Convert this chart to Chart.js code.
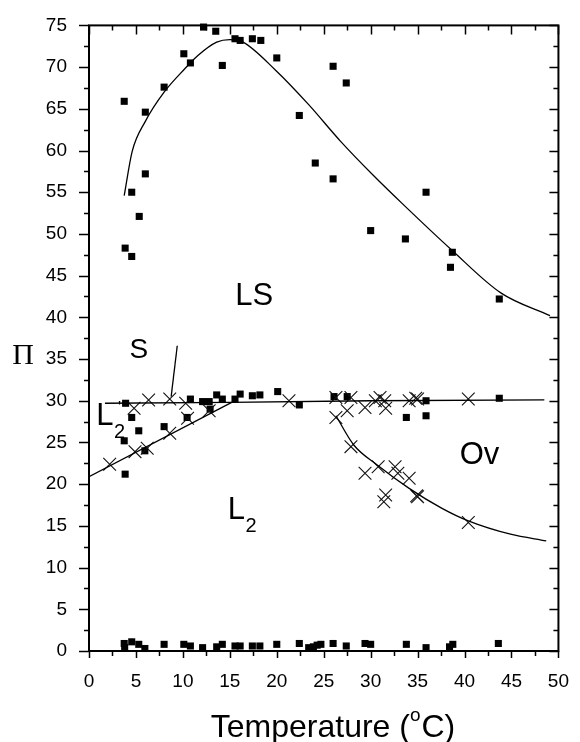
<!DOCTYPE html>
<html>
<head>
<meta charset="utf-8">
<script src="https://cdn.jsdelivr.net/npm/chart.js@4.4.0/dist/chart.umd.min.js"></script>
<style>
  html, body { margin: 0; padding: 0; background: #fff; }
  #wrap { width: 580px; height: 742px; }
</style>
</head>
<body>
<div id="wrap"><canvas id="phaseChart" width="580" height="742"></canvas></div>
<script>
/************************************************************************************
 *                                    DATA
 ************************************************************************************/

// squares, upper LS branch
const lsSquares = [
  [3.75, 65.9], [3.85, 48.3], [4.55, 47.3], [4.55, 55.0], [5.35, 52.1], [6.0, 57.2],
  [6.0, 64.6], [8.0, 67.6], [10.1, 71.6], [10.8, 70.5], [12.2, 74.8], [13.5, 74.3],
  [14.2, 70.2], [15.55, 73.4], [16.1, 73.2], [17.4, 73.4], [18.3, 73.2], [20.0, 71.1],
  [22.4, 64.2], [24.1, 58.5], [26.0, 70.1], [26.0, 56.6], [27.4, 68.1], [30.0, 50.4],
  [33.7, 49.4], [35.9, 55.0], [38.7, 47.8], [38.5, 46.0], [43.7, 42.2],
];

// squares around the plateau
const midSquares = [
  [3.9, 29.7], [4.55, 28.0], [5.3, 26.4], [3.75, 25.2], [3.85, 21.2], [5.95, 24.0],
  [8.0, 26.9], [10.45, 28.0], [10.8, 30.2], [12.1, 29.9], [12.8, 29.9], [12.9, 29.0],
  [13.6, 30.7], [14.2, 30.2], [15.55, 30.2], [16.1, 30.8], [17.4, 30.6], [18.2, 30.7],
  [20.1, 31.1], [22.4, 29.5], [26.1, 30.5], [27.5, 30.5], [33.8, 28.0], [35.9, 28.2],
  [35.9, 30.0], [43.7, 30.3],
];

// squares near zero
const lowSquares = [
  [3.75, 0.9], [3.8, 0.4], [4.55, 1.1], [5.3, 0.8], [5.95, 0.3], [8.0, 0.8], [10.1, 0.8],
  [10.8, 0.6], [12.1, 0.4], [13.6, 0.5], [14.2, 0.8], [15.55, 0.6], [16.1, 0.6], [17.4, 0.6],
  [18.2, 0.6], [20.0, 0.8], [22.4, 0.9], [23.4, 0.4], [23.9, 0.5], [24.3, 0.7], [24.7, 0.8],
  [26.0, 0.9], [27.4, 0.6], [29.4, 0.9], [30.0, 0.8], [33.8, 0.8], [35.9, 0.4], [38.4, 0.5],
  [38.75, 0.8], [43.6, 0.9],
];

// crosses
const crosses = [
  [2.2, 22.4], [4.9, 23.9], [6.2, 24.3], [8.6, 26.1], [10.5, 27.9], [12.8, 28.8],
  [4.8, 29.1], [6.35, 30.1], [8.6, 30.2], [10.3, 29.7], [21.3, 30.0], [26.3, 30.4],
  [27.9, 30.4], [27.5, 28.8], [29.4, 29.2], [30.5, 30.0], [31.0, 30.4], [31.5, 30.0],
  [31.6, 29.1], [34.1, 30.0], [34.8, 30.3], [35.0, 30.2], [40.4, 30.2], [26.3, 28.0],
  [27.9, 24.5], [29.4, 21.3], [30.8, 22.1], [32.6, 22.1], [32.9, 21.3], [34.1, 20.7],
  [31.6, 18.7], [31.4, 17.9], [34.9, 18.6], [35.0, 18.5], [40.4, 15.4],
];

// boundary curves
const lsCurve = [
  [3.75, 54.6], [4.6, 59.9], [6.0, 63.5], [8.0, 67.0], [10.2, 69.8], [11.6, 71.4],
  [13.6, 73.0], [15.0, 73.3], [16.4, 73.0], [19.9, 69.6], [23.4, 65.5], [26.8, 61.1],
  [30.3, 57.0], [33.4, 53.6], [38.6, 48.1], [43.9, 42.9], [49.1, 40.2],
];
const plateauLine = [[1.7, 29.7], [15.0, 29.8], [30.0, 30.0], [48.5, 30.1]];
const slopeLine = [[0, 20.9], [15.2, 29.8]];
const ovCurve = [
  [26.3, 28.2], [28.2, 24.7], [30.7, 22.3], [34.1, 19.5], [37.6, 17.1], [40.4, 15.6],
  [44.9, 14.0], [48.7, 13.2],
];
const sPointer = [[9.4, 36.6], [8.75, 30.5]];

// axes
const xTicks = [0, 5, 10, 15, 20, 25, 30, 35, 40, 45, 50];
const yTicks = [0, 5, 10, 15, 20, 25, 30, 35, 40, 45, 50, 55, 60, 65, 70, 75];

// region labels: [text, x, y, subscript, prime]
const regionLabels = [
  ["LS", 17.6, 42.5, "", false],
  ["S", 5.3, 36.0, "", false],
  ["Ov", 41.6, 23.5, "", false],
  ["L", 15.7, 16.8, "2", false],
  ["L", 1.7, 28.1, "2", true],
];

/************************************************************************************
 *                                    HELPERS
 ************************************************************************************/

const toPts = (arr) => arr.map((p) => ({ x: p[0], y: p[1] }));

function pointSet(arr, style, radius) {
  return {
    data: toPts(arr),
    showLine: false,
    pointStyle: style,
    pointRadius: radius,
    pointBackgroundColor: "#000",
    pointBorderColor: "#111",
    pointBorderWidth: style === "rect" ? 0 : 1.1,
    clip: false,
  };
}

function lineSet(arr, smooth) {
  return {
    data: toPts(arr),
    showLine: true,
    pointRadius: 0,
    borderColor: "#000",
    borderWidth: 1.3,
    tension: smooth ? 0.4 : 0,
    cubicInterpolationMode: smooth ? "monotone" : "default",
    fill: false,
  };
}

// frame, mirrored ticks, minor ticks and text
const framePlugin = {
  id: "frame",
  afterDraw(chart) {
    const ctx = chart.ctx;
    const { left, right, top, bottom } = chart.chartArea;
    const sx = chart.scales.x;
    const sy = chart.scales.y;
    ctx.save();
    ctx.strokeStyle = "#000";
    ctx.lineWidth = 2;
    ctx.strokeRect(left, top, right - left, bottom - top);

    ctx.lineWidth = 1.5;
    ctx.beginPath();
    for (let v = 0; v <= 50; v += 2.5) {
      const px = Math.round(sx.getPixelForValue(v)) + 0.5;
      const major = v % 5 === 0;
      ctx.moveTo(px, bottom);
      ctx.lineTo(px, bottom + (major ? 7 : 5));
      ctx.moveTo(px, top);
      ctx.lineTo(px, top + (major ? 9 : 5));
    }
    for (let v = 0; v <= 75; v += 2.5) {
      const py = Math.round(sy.getPixelForValue(v)) + 0.5;
      const major = v % 5 === 0;
      ctx.moveTo(left - (major ? 10 : 5), py);
      ctx.lineTo(left, py);
      ctx.moveTo(right - (major ? 9 : 5), py);
      ctx.lineTo(right, py);
    }
    ctx.stroke();

    // region labels
    ctx.fillStyle = "#000";
    ctx.textAlign = "center";
    ctx.textBaseline = "middle";
    regionLabels.forEach(([txt, x, y, sub, prime]) => {
      const px = sx.getPixelForValue(x);
      const py = sy.getPixelForValue(y);
      const size = txt === "S" ? 28 : 31;
      ctx.font = size + "px 'Liberation Sans', Arial, sans-serif";
      ctx.fillText(txt, px, py);
      const w = ctx.measureText(txt).width;
      if (sub) {
        ctx.font = "20px 'Liberation Sans', Arial, sans-serif";
        ctx.fillText(sub, px + w / 2 + 6, py + 16);
      }
      if (prime) {
        ctx.font = "16px 'Liberation Sans', Arial, sans-serif";
        ctx.fillText("'", px + w / 2 + 6, py - 8);
      }
    });

    // y axis symbol
    ctx.font = "30px 'Liberation Serif', 'Times New Roman', serif";
    ctx.fillText("\u03A0", 23, 356);

    // x axis title with superscript degree
    const big = "32px 'Liberation Sans', Arial, sans-serif";
    const small = "19px 'Liberation Sans', Arial, sans-serif";
    ctx.textAlign = "left";
    ctx.textBaseline = "alphabetic";
    ctx.font = big;
    const w1 = ctx.measureText("Temperature (").width;
    const w3 = ctx.measureText("C)").width;
    ctx.font = small;
    const w2 = ctx.measureText("o").width + 1;
    const x0 = 333 - (w1 + w2 + w3) / 2;
    const base = 737;
    ctx.font = big;
    ctx.fillText("Temperature (", x0, base);
    ctx.font = small;
    ctx.fillText("o", x0 + w1, base - 16);
    ctx.font = big;
    ctx.fillText("C)", x0 + w1 + w2, base);
    ctx.restore();
  },
};

/************************************************************************************
 *                                    CHART
 ************************************************************************************/

const tickFont = { family: "'Liberation Sans', Arial, sans-serif", size: 19 };

const config = {
  type: "scatter",
  data: {
    datasets: [
      lineSet(lsCurve, true),
      lineSet(plateauLine, false),
      lineSet(slopeLine, false),
      lineSet(ovCurve, true),
      lineSet(sPointer, false),
      pointSet(crosses, "crossRot", 9),
      pointSet(lsSquares, "rect", 5),
      pointSet(midSquares, "rect", 5),
      pointSet(lowSquares, "rect", 5),
    ],
  },
  options: {
    responsive: false,
    animation: false,
    layout: { padding: { top: 20, right: 11, left: 0, bottom: 0 } },
    plugins: { legend: { display: false }, tooltip: { enabled: false } },
    scales: {
      x: {
        type: "linear",
        min: 0,
        max: 50,
        afterBuildTicks: (s) => { s.ticks = xTicks.map((v) => ({ value: v })); },
        afterFit: (s) => { s.height = 91; },
        grid: { display: false },
        border: { display: false },
        ticks: { font: tickFont, color: "#000", padding: 11, maxRotation: 0 },
      },
      y: {
        type: "linear",
        min: 0,
        max: 75,
        afterBuildTicks: (s) => { s.ticks = yTicks.map((v) => ({ value: v })); },
        afterFit: (s) => { s.width = 89; },
        grid: { display: false },
        border: { display: false },
        ticks: { font: tickFont, color: "#000", padding: 14 },
      },
    },
  },
  plugins: [framePlugin],
};

new Chart(document.getElementById("phaseChart"), config);
</script>
</body>
</html>
